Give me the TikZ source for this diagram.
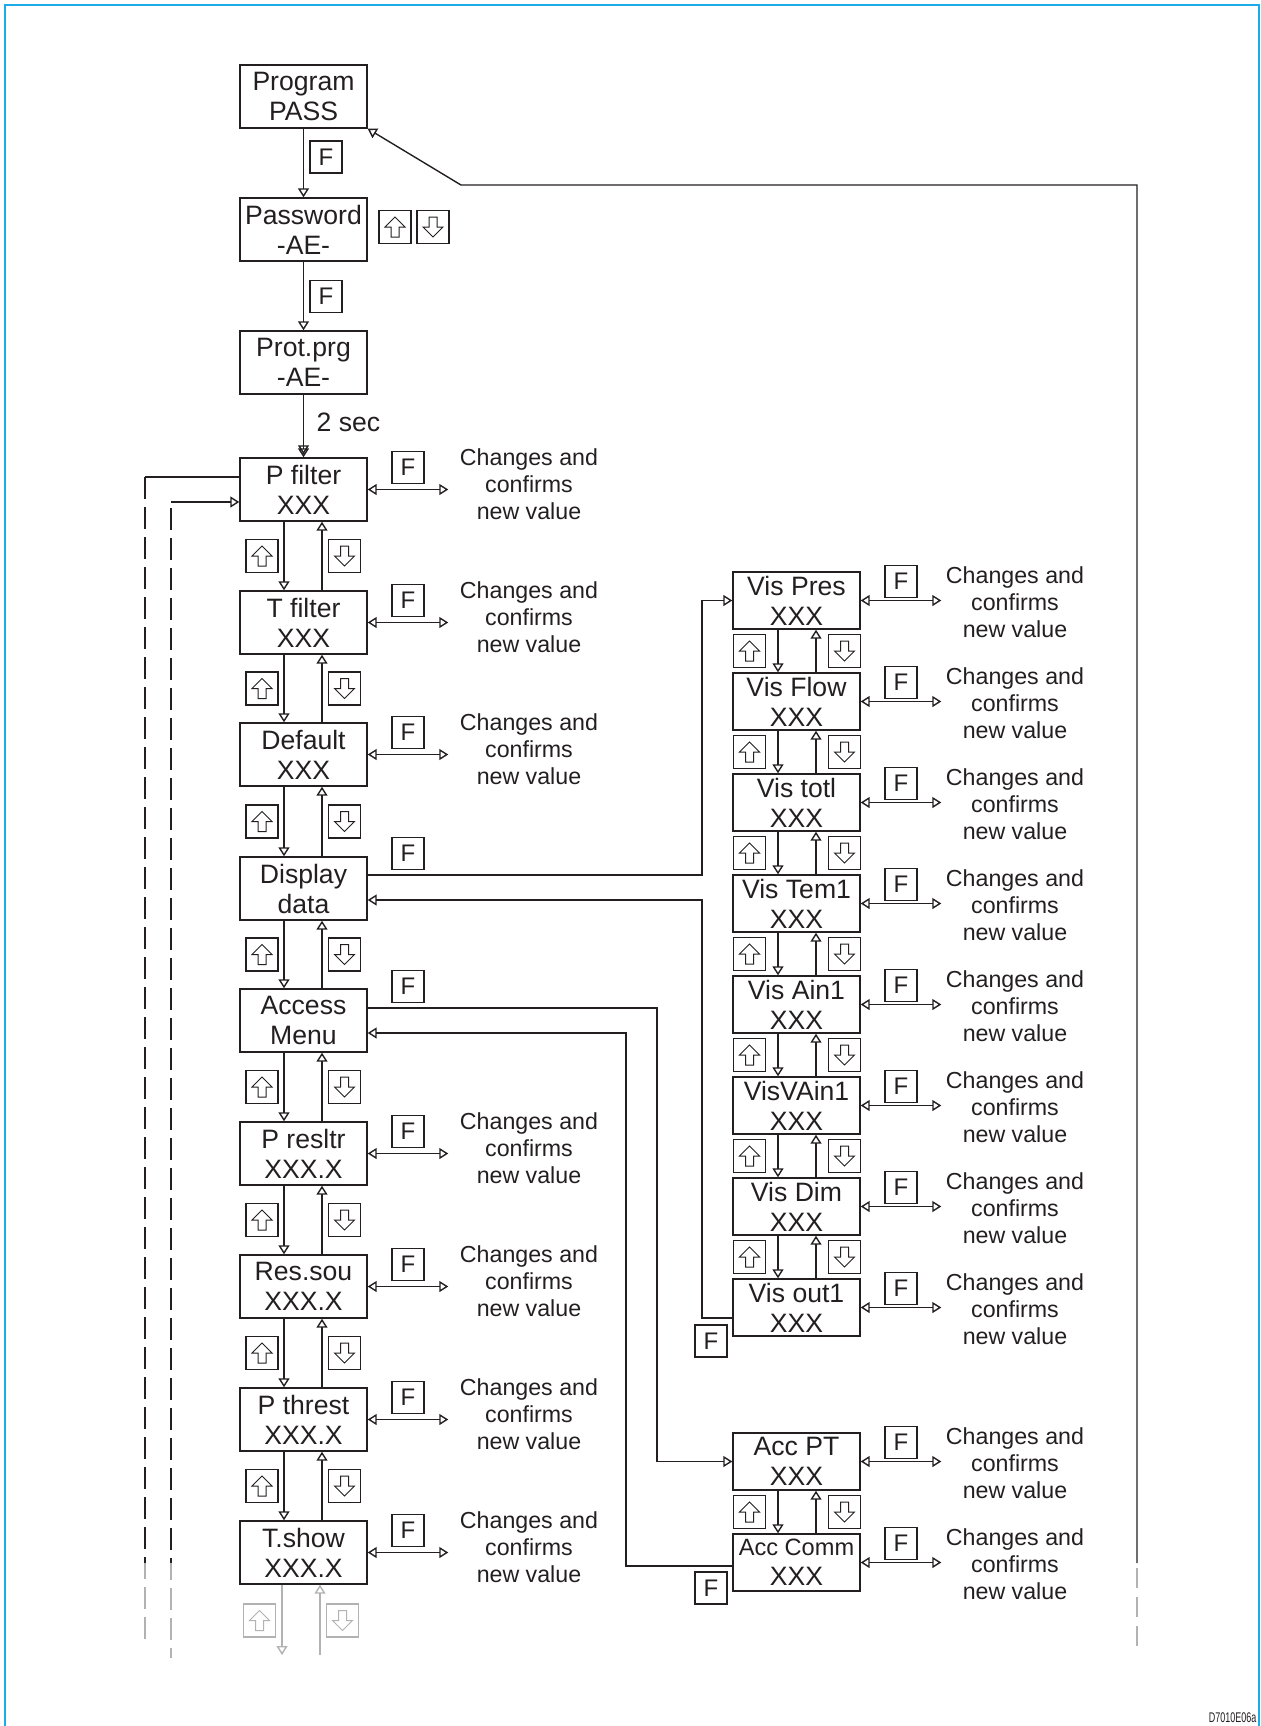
\documentclass[tikz,border=0pt]{standalone}
\usepackage{fontspec}
\setmainfont{Liberation Sans}
\usetikzlibrary{arrows.meta,calc}
\definecolor{ink}{RGB}{35,31,32}
\definecolor{frameblue}{RGB}{30,172,232}
\definecolor{fadegray}{RGB}{178,178,178}
\begin{document}
\begin{tikzpicture}[x=0.5pt,y=-0.5pt,
  color=ink, line width=0.7pt,
  otri/.tip={Triangle[open,length=4.5pt,width=5.5pt]},
  arr/.style={-otri},
  dbl/.style={otri-otri},
  lbox/.style={draw, minimum width=63.5pt, minimum height=31.5pt, inner sep=0pt, align=center, font=\fontsize{13.3}{15}\selectfont},
  vbox/.style={lbox, minimum height=28.5pt},
  fkey/.style={draw, minimum width=16pt, minimum height=16pt, inner sep=0pt, font=\fontsize{12}{12}\selectfont},
  keybox/.style={draw, minimum width=16pt, minimum height=16.5pt, inner sep=0pt},
  upkey/.style={keybox, path picture={\draw[line width=0.5pt,#1] ([yshift=5pt]path picture bounding box.center) -- ++(5pt,-5pt) -- ++(-3pt,0pt) -- ++(0pt,-5pt) -- ++(-4pt,0pt) -- ++(0pt,5pt) -- ++(-3pt,0pt) -- cycle;}},
  upkey/.default=ink,
  downkey/.style={keybox, path picture={\draw[line width=0.5pt,#1] ([yshift=-5pt]path picture bounding box.center) -- ++(5pt,5pt) -- ++(-3pt,0pt) -- ++(0pt,5pt) -- ++(-4pt,0pt) -- ++(0pt,-5pt) -- ++(-3pt,0pt) -- cycle;}},
  downkey/.default=ink,
  note/.style={align=center, inner ysep=0pt, font=\fontsize{11.6}{13.5}\selectfont},
  lnote/.style={note, inner xsep=5.5pt},
  rnote/.style={note, inner xsep=2pt},
  dashpat/.style={dash pattern=on 11pt off 4pt},
]
\useasboundingbox (0,0) rectangle (1261,1726);
% frame
\draw[frameblue, line width=1.2pt] (5,1726) -- (5,5) -- (1259,5) -- (1259,1726);

% left column
\node[lbox] (prog) at (303.5,96.5) {Program\\PASS};
\node[lbox] (pass) at (303.5,229.5) {Password\\-AE-};
\node[lbox] (prot) at (303.5,362.5) {Prot.prg\\-AE-};
\node[lbox] (pfil) at (303.5,489.5) {P filter\\XXX};
\node[lbox] (tfil) at (303.5,622.5) {T filter\\XXX};
\node[lbox] (defa) at (303.5,754.5) {Default\\XXX};
\node[lbox] (disp) at (303.5,888.5) {Display\\data};
\node[lbox] (accm) at (303.5,1020.5) {Access\\Menu};
\node[lbox] (pres) at (303.5,1153.5) {P resltr\\XXX.X};
\node[lbox] (ress) at (303.5,1286.5) {Res.sou\\XXX.X};
\node[lbox] (pthr) at (303.5,1419.5) {P threst\\XXX.X};
\node[lbox] (tsho) at (303.5,1552.5) {T.show\\XXX.X};

% right column
\node[vbox] (vpre) at (796.5,600.5) {Vis Pres\\XXX};
\node[vbox] (vflo) at (796.5,701.5) {Vis Flow\\XXX};
\node[vbox] (vtot) at (796.5,802.5) {Vis totl\\XXX};
\node[vbox] (vtem) at (796.5,903.5) {Vis Tem1\\XXX};
\node[vbox] (vain) at (796.5,1004.5) {Vis Ain1\\XXX};
\node[vbox] (vvai) at (796.5,1105.5) {VisVAin1\\XXX};
\node[vbox] (vdim) at (796.5,1206.5) {Vis Dim\\XXX};
\node[vbox] (vout) at (796.5,1307.5) {Vis out1\\XXX};
\node[vbox] (apt) at (796.5,1461.5) {Acc PT\\XXX};
\node[vbox] (acom) at (796.5,1562.5) {{\fontsize{11.8}{15}\selectfont Acc Comm}\\XXX};

% top chain
\draw[arr] (prog) -- (pass);
\draw[arr] (pass) -- (prot);
\draw[-{Triangle[open,length=4.5pt,width=5.5pt,sep=-3pt]Triangle[open,length=4.5pt,width=5.5pt]}] (prot) -- (pfil);
\node[fkey] (f-prog) at (326,157) {F};
\node[fkey] (f-pass) at (326,296.5) {F};
\node[upkey] (u-pass) at (395,227) {};
\node[downkey] (d-pass) at (433,227) {};
\node[anchor=west, inner sep=0pt, font=\fontsize{13.3}{15}\selectfont] (sec) at (316,422) {2 sec};

% left up/down pairs
\foreach \a/\b in {pfil/tfil,tfil/defa,defa/disp,disp/accm,accm/pres,pres/ress,ress/pthr,pthr/tsho}{
  \draw[arr] ([xshift=-9.75pt]\a.south) -- ([xshift=-9.75pt]\b.north);
  \draw[arr] ([xshift=9.25pt]\b.north) -- ([xshift=9.25pt]\a.south);
  \coordinate (m-\a) at ($(\a.south)!0.5!(\b.north)$);
  \node[upkey] (u-\a) at ([xshift=-20.75pt]m-\a) {};
  \node[downkey] (d-\a) at ([xshift=20.5pt]m-\a) {};
}
% right up/down pairs
\foreach \a/\b in {vpre/vflo,vflo/vtot,vtot/vtem,vtem/vain,vain/vvai,vvai/vdim,vdim/vout,apt/acom}{
  \draw[arr] ([xshift=-9.25pt]\a.south) -- ([xshift=-9.25pt]\b.north);
  \draw[arr] ([xshift=9.75pt]\b.north) -- ([xshift=9.75pt]\a.south);
  \coordinate (m-\a) at ($(\a.south)!0.5!(\b.north)$);
  \node[upkey] (u-\a) at ([xshift=-23.5pt]m-\a) {};
  \node[downkey] (d-\a) at ([xshift=24pt]m-\a) {};
}

% left F / changes
\foreach \n in {pfil,tfil,defa,pres,ress,pthr,tsho}{
  \node[fkey] (f-\n) at ($(\n.center)+(104.5,-22)$) {F};
  \node[lnote] (t-\n) at ($(\n.center)+(225.5,-5)$) {Changes and\\confirms\\new value};
  \draw[dbl] (\n.east) -- (\n.east -| t-\n.west);
}
% right F / changes
\foreach \n in {vpre,vflo,vtot,vtem,vain,vvai,vdim,vout,apt,acom}{
  \node[fkey] (f-\n) at ($(\n.center)+(104.5,-19)$) {F};
  \node[rnote] (t-\n) at ($(\n.center)+(218.5,2)$) {Changes and\\confirms\\new value};
  \draw[dbl] (\n.east) -- (\n.east -| t-\n.west);
}

% Display data <-> Vis column
\coordinate (j1) at (702,875);
\coordinate (j2) at (702,1318);
\coordinate (j3) at (702,900);
\draw[arr] (disp.east |- j1) -- (j1) -- (j1 |- vpre.west) -- (vpre.west);
\draw[arr] (vout.west |- j2) -- (j2) -- (j3) -- (disp.east |- j3);
\node[fkey] (f-disp) at (408,853.5) {F};
\node[fkey] (f-vret) at (711,1341) {F};

% Access Menu <-> Acc column
\coordinate (k1) at (657,1008);
\coordinate (k2) at (626,1566);
\coordinate (k3) at (626,1033);
\draw[arr] (accm.east |- k1) -- (k1) -- (k1 |- apt.west) -- (apt.west);
\draw[arr] (acom.west |- k2) -- (k2) -- (k3) -- (accm.east |- k3);
\node[fkey] (f-accm) at (408,986.5) {F};
\node[fkey] (f-aret) at (711,1588) {F};

% return loop to Program PASS
\coordinate (la) at (1137,1563);
\coordinate (lb) at (1137,185);
\coordinate (lc) at (461,185);
\coordinate (ld) at (1137,1647);
\draw[arr] (la) -- (lb) -- (lc) -- (prog.south east);
\draw[fadegray, dash pattern=on 10pt off 4.5pt, dash phase=12pt] (la) -- (ld);

% left dashed return lines
\coordinate (lo1) at (145,477);
\coordinate (lo2) at (145,1563);
\coordinate (lo3) at (145,1643);
\draw (pfil.west |- lo1) -- (lo1);
\draw[fadegray, dashpat] (lo1) -- (lo3);
\draw[dashpat] (lo1) -- (lo2);
\coordinate (li1) at (171,502);
\coordinate (li2) at (171,1563);
\coordinate (li3) at (171,1658);
\draw[arr] (li1) -- (pfil.west |- li1);
\draw[fadegray, dashpat, dash phase=-3pt] (li1) -- (li3);
\draw[dashpat, dash phase=-3pt] (li1) -- (li2);

% faded continuation below T.show
\coordinate (g1) at (282,1655);
\coordinate (g2) at (320,1655);
\draw[arr, fadegray] (tsho.south -| g1) -- (g1);
\draw[arr, fadegray] (g2) -- (tsho.south -| g2);
\node[upkey=fadegray, draw=fadegray] (u-tsho) at (259.5,1620.5) {};
\node[downkey=fadegray, draw=fadegray] (d-tsho) at (342.5,1620.5) {};

% drawing code
\node[anchor=east, inner sep=0pt, font=\fontsize{7}{7}\selectfont] (code) at (1257,1718) {\scalebox{0.64}[1]{D7010E06a}};
\end{tikzpicture}
\end{document}
